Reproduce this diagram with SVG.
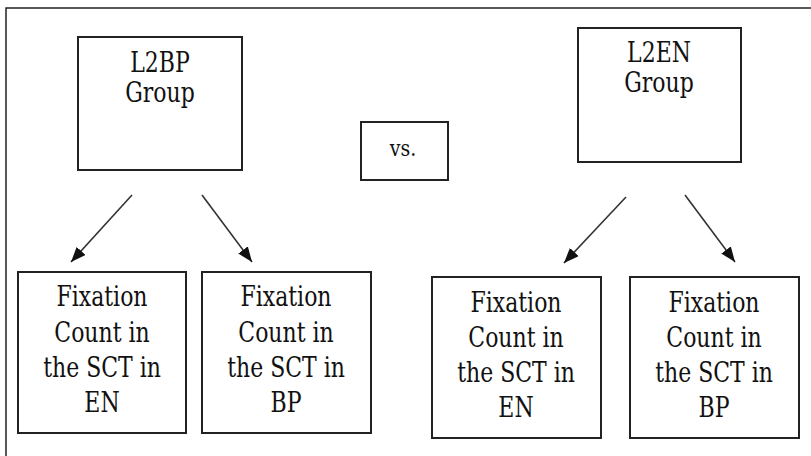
<svg xmlns="http://www.w3.org/2000/svg" width="811" height="456" viewBox="0 0 811 456">
<style>
.box{fill:#fff;stroke:#222;stroke-width:2}
.t{font-family:'DejaVu Serif','Liberation Serif',serif;font-size:22px;fill:#111;text-anchor:middle}
.vs{font-family:'DejaVu Serif','Liberation Serif',serif;font-size:19px;fill:#111;text-anchor:middle}
.c{stroke:#333;stroke-width:1.6;fill:none;marker-end:url(#ah)}
</style>
<defs>
<marker id="ah" viewBox="0 0 15 12" refX="15" refY="6" markerWidth="15" markerHeight="12" markerUnits="userSpaceOnUse" orient="auto">
<path d="M0,0 L15,6 L0,12 Z" fill="#111"/>
</marker>
</defs>
<rect width="811" height="456" fill="#fff"/>
<path d="M6,456 V8 H811" fill="none" stroke="#222" stroke-width="1.5"/>
<g id="l2bp">
<rect class="box" x="78" y="37" width="164" height="133"/>
<text class="t" transform="translate(160,72) scale(1,1.28)">L2BP</text>
<text class="t" transform="translate(160,102) scale(1,1.28)">Group</text>
</g>
<g id="vs">
<rect class="box" x="361" y="122" width="87" height="58"/>
<text class="vs" transform="translate(403,156) scale(1,1.2)">vs.</text>
</g>
<g id="l2en">
<rect class="box" x="578" y="28" width="163" height="134"/>
<text class="t" transform="translate(659,62) scale(1,1.28)">L2EN</text>
<text class="t" transform="translate(659,92) scale(1,1.28)">Group</text>
</g>
<g id="bp-en">
<rect class="box" x="18" y="272" width="168" height="161"/>
<text class="t" transform="translate(102,306) scale(1,1.28)">Fixation</text>
<text class="t" transform="translate(102,342) scale(1,1.28)">Count in</text>
<text class="t" transform="translate(102,377) scale(1,1.28)">the SCT in</text>
<text class="t" transform="translate(102,412) scale(1,1.28)">EN</text>
</g>
<g id="bp-bp">
<rect class="box" x="202" y="272" width="169" height="161"/>
<text class="t" transform="translate(286,306) scale(1,1.28)">Fixation</text>
<text class="t" transform="translate(286,342) scale(1,1.28)">Count in</text>
<text class="t" transform="translate(286,377) scale(1,1.28)">the SCT in</text>
<text class="t" transform="translate(286,412) scale(1,1.28)">BP</text>
</g>
<g id="en-en">
<rect class="box" x="432" y="277" width="169" height="161"/>
<text class="t" transform="translate(516,312) scale(1,1.28)">Fixation</text>
<text class="t" transform="translate(516,347) scale(1,1.28)">Count in</text>
<text class="t" transform="translate(516,382) scale(1,1.28)">the SCT in</text>
<text class="t" transform="translate(516,417) scale(1,1.28)">EN</text>
</g>
<g id="en-bp">
<rect class="box" x="630" y="277" width="169" height="161"/>
<text class="t" transform="translate(714,312) scale(1,1.28)">Fixation</text>
<text class="t" transform="translate(714,347) scale(1,1.28)">Count in</text>
<text class="t" transform="translate(714,382) scale(1,1.28)">the SCT in</text>
<text class="t" transform="translate(714,417) scale(1,1.28)">BP</text>
</g>
<g id="connectors">
<line class="c" x1="132" y1="195" x2="71" y2="262"/>
<line class="c" x1="202" y1="195" x2="252" y2="262"/>
<line class="c" x1="626" y1="197" x2="564" y2="263"/>
<line class="c" x1="685" y1="195" x2="735" y2="262"/>
</g>
</svg>
